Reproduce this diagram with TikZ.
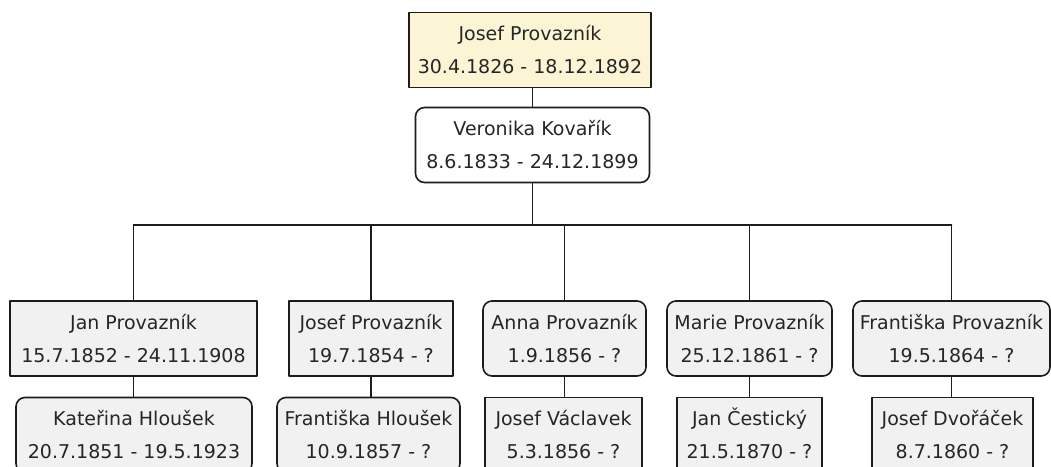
\documentclass[tikz,border=0pt]{standalone}
\usepackage{fontspec}
\setmainfont{DejaVu Sans}
\definecolor{rootfill}{HTML}{FCF5D5}
\definecolor{boxfill}{HTML}{F1F1F1}
\definecolor{linegray}{HTML}{1C1C1C}
\begin{document}
\begin{tikzpicture}[x=1pt,y=-1pt,line join=round,line cap=round]
	\tikzset{person/.style={draw=linegray,line width=1.6pt,fill=boxfill,align=center,inner sep=2pt,minimum height=75pt,text height=47.4pt,text depth=0pt,text=black!85,font=\fontsize{19}{33}\selectfont},
		man/.style={person,rectangle},
		woman/.style={person,rounded corners=9pt},
		conn/.style={draw=linegray,line width=1.6pt}}
	\useasboundingbox (0,0) rectangle (1051,466);
	\clip (0,0) rectangle (1051,466);
	\fill[white] (0,0) rectangle (1051,466);
	% parents
	\node[man,fill=rootfill,minimum width=242pt] (josef) at (530,50) {Josef Provazník\\30.4.1826 - 18.12.1892};
	\node[woman,fill=white,minimum width=234pt] (veronika) at (532.5,145) {Veronika Kovařík\\8.6.1833 - 24.12.1899};
	\coordinate (bar) at (533,225);
	% children
	\node[man,minimum width=247pt] (jan) at (133.5,338.5) {Jan Provazník\\15.7.1852 - 24.11.1908};
	\node[man,minimum width=164pt] (josefb) at (371,338.5) {Josef Provazník\\19.7.1854 - ?};
	\node[woman,minimum width=163pt] (anna) at (564.5,338.5) {Anna Provazník\\1.9.1856 - ?};
	\node[woman,minimum width=165pt] (marie) at (749.5,338.5) {Marie Provazník\\25.12.1861 - ?};
	\node[woman,minimum width=197pt] (frantiska) at (951.5,338.5) {Františka Provazník\\19.5.1864 - ?};
	% spouses
	\node[woman,minimum width=236pt] (katerina) at (134,435) {Kateřina Hloušek\\20.7.1851 - 19.5.1923};
	\node[woman,minimum width=183pt] (frantiskah) at (368.5,435) {Františka Hloušek\\10.9.1857 - ?};
	\node[man,minimum width=157pt] (vaclavek) at (563.5,435) {Josef Václavek\\5.3.1856 - ?};
	\node[man,minimum width=145pt] (cesticky) at (749.5,435) {Jan Čestický\\21.5.1870 - ?};
	\node[man,minimum width=161pt] (dvoracek) at (952.5,435) {Josef Dvořáček\\8.7.1860 - ?};
	% lines
	\draw[conn] (veronika.north) -- (veronika.north |- josef.south);
	\draw[conn] (veronika.south) -- (veronika.south |- bar);
	\draw[conn] (jan.north |- bar) -- (frantiska.north |- bar);
	\foreach \c in {jan,josefb,anna,marie,frantiska}
	\draw[conn] (\c.north) -- (\c.north |- bar);
	\foreach \c/\s in {jan/katerina,josefb/frantiskah,anna/vaclavek,marie/cesticky,frantiska/dvoracek}
	\draw[conn] (\c.south) -- (\c.south |- \s.north);
\end{tikzpicture}
\end{document}
